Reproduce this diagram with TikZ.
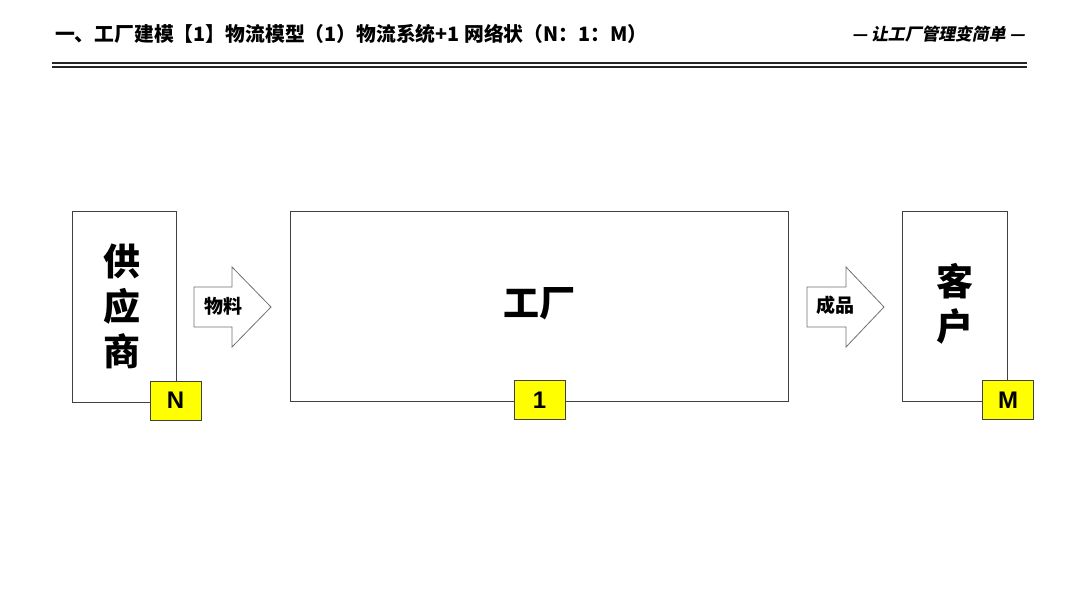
\documentclass[tikz,border=0pt]{standalone}
\usepackage{fontspec}
\newfontfamily\cjk{Noto Sans CJK SC}
\newfontfamily\cjkit{Noto Sans CJK SC}[FakeSlant=0.2]
\newfontfamily\lat{Liberation Sans}
\definecolor{boxline}{HTML}{404040}
\definecolor{arrline}{HTML}{707070}
\definecolor{tagyellow}{HTML}{FFFF00}
\begin{document}
\begin{tikzpicture}[x=1pt,y=-1pt,
  entity/.style={draw=boxline, line width=1pt, fill=white},
  tagbox/.style={draw=boxline, line width=1pt, fill=tagyellow, minimum width=51pt, minimum height=39pt, inner sep=0pt, font=\cjk\fontseries{m}\fontsize{25}{25}\selectfont},
  bigtxt/.style={font=\cjk\bfseries\fontsize{37}{45}\selectfont, align=center, inner sep=0pt},
  arrlabel/.style={font=\cjk\bfseries\fontsize{19}{22}\selectfont, inner sep=0pt},
  flowarrow/.style={draw=arrline, line width=0.8pt, fill=white}]
\useasboundingbox (0,0) rectangle (1080,608);
% header
\node[anchor=west, inner sep=0pt, font=\cjk\bfseries\fontsize{19.8}{22}\selectfont] (title) at (55,34) {一、工厂建模【1】物流模型（1）物流系统+1 网络状（N：1：M）};
\node[anchor=east, inner sep=0pt, font=\cjkit\bfseries\fontsize{16.8}{20}\selectfont] (slogan) at (1025,34) {— 让工厂管理变简单 —};
\coordinate (l1a) at (52,62.5); \coordinate (l1b) at (1027,62.5);
\coordinate (l2a) at (52,66.5); \coordinate (l2b) at (1027,66.5);
\draw[line width=2pt, black!85] (l1a) -- (l1b);
\draw[line width=2pt, black!85] (l2a) -- (l2b);
% boxes
\draw[entity] (72,211) rectangle (176,402);
\node[bigtxt] (sup) at (122,306) {供\\应\\商};
\node[tagbox, font=\lat\bfseries\fontsize{24}{24}\selectfont] (n) at (175.5,400.5) {N};
\draw[entity] (290,211) rectangle (788,401);
\node[font=\cjk\bfseries\fontsize{36}{36}\selectfont, inner sep=0pt] (fac) at (539,304) {工厂};
\node[tagbox, font=\lat\bfseries\fontsize{24}{24}\selectfont] (one) at (539.5,400) {1};
\draw[entity] (902,211) rectangle (1007,401);
\node[bigtxt] (cus) at (955,304) {客\\户};
\node[tagbox, font=\lat\bfseries\fontsize{24}{24}\selectfont] (m) at (1008,400) {M};
% arrows
\draw[flowarrow] (194,287) -- (232,287) -- (232,267) -- (271,307) -- (232,347) -- (232,327) -- (194,327) -- cycle;
\node[arrlabel] (wl) at (223,306) {物料};
\draw[flowarrow] (807,287) -- (846,287) -- (846,267) -- (884,307) -- (846,347) -- (846,327) -- (807,327) -- cycle;
\node[arrlabel] (cp) at (835,305) {成品};
\end{tikzpicture}
\end{document}
